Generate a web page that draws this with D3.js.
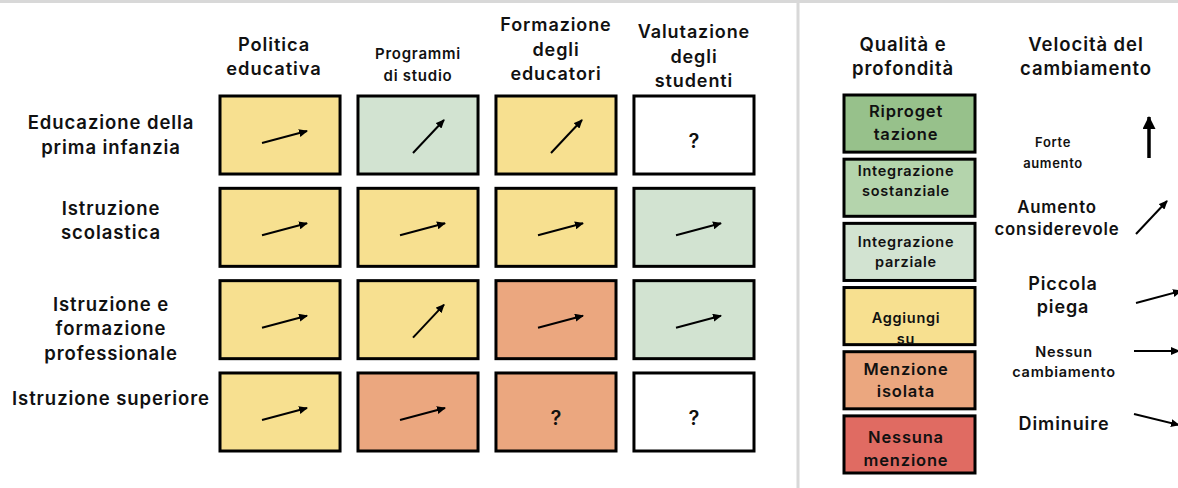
<!DOCTYPE html>
<html>
<head>
<meta charset="utf-8">
<script src="https://cdn.jsdelivr.net/npm/d3@7"></script>
<style>
  html, body { margin: 0; padding: 0; background: #fff; }
  svg { display: block; }
  text { font-family: Inter, "Open Sans", "DejaVu Sans", sans-serif; font-weight: 600; fill: #111; letter-spacing: 0.05em; }
</style>
</head>
<body>
<svg id="chart" width="1178" height="488"></svg>
<script>
// ---------------- DATA ----------------
const columns = ["Politica\neducativa", "Programmi\ndi studio", "Formazione\ndegli\neducatori", "Valutazione\ndegli\nstudenti"];
const rowLabels = ["Educazione della\nprima infanzia", "Istruzione\nscolastica", "Istruzione e\nformazione\nprofessionale", "Istruzione superiore"];
const qualityLevels = ["Riproget\ntazione", "Integrazione\nsostanziale", "Integrazione\nparziale", "Aggiungi\nsu", "Menzione\nisolata", "Nessuna\nmenzione"];
const speedLevels = ["Forte\naumento", "Aumento\nconsiderevole", "Piccola\npiega", "Nessun\ncambiamento", "Diminuire"];
// quality per cell: index into qualityLevels, null = unknown (white)
const qualityRow1 = [3, 2, 3, null];
const qualityRow2 = [3, 3, 3, 2];
const qualityRow3 = [3, 3, 4, 2];
const qualityRow4 = [3, 4, 4, null];
// speed per cell: index into speedLevels, null = "?"
const speedRow1 = [2, 1, 1, null];
const speedRow2 = [2, 2, 2, 2];
const speedRow3 = [2, 1, 2, 2];
const speedRow4 = [2, 2, null, null];
const unknownMark = "?";

// ---------------- STYLES / LAYOUT ----------------
const qualityColors = ["#97c18b", "#b4d4ac", "#d2e3d1", "#f7e090", "#eba77f", "#e06b62"];
const unknownColor = "#ffffff";
// arrow vectors per speed level [dx, dy]
const speedVectors = [[0, -41], [31, -33], [45, -12], [45, 0], [45, 11]];

const svg = d3.select("#chart");

svg.append("line").attr("x1", 0).attr("x2", 1178).attr("y1", 1.5).attr("y2", 1.5)
  .attr("stroke", "#d8d8d8").attr("stroke-width", 3);
svg.append("line").attr("x1", 798).attr("x2", 798).attr("y1", 0).attr("y2", 488)
  .attr("stroke", "#d8d8d8").attr("stroke-width", 3);

const defs = svg.append("defs");
function marker(id, w, h) {
  defs.append("marker").attr("id", id)
    .attr("viewBox", `0 0 ${w} ${h}`).attr("refX", w - 1).attr("refY", h / 2)
    .attr("markerWidth", w).attr("markerHeight", h).attr("markerUnits", "userSpaceOnUse")
    .attr("orient", "auto")
    .append("path").attr("d", `M0,0 L${w},${h / 2} L0,${h} Z`).attr("fill", "#000");
}
marker("head", 9, 8);
marker("headBig", 13, 13);

function multiline(sel, str, x, baseline0, lh, size, anchor = "middle") {
  const t = sel.append("text").attr("x", x).attr("y", baseline0)
    .attr("text-anchor", anchor).attr("font-size", size);
  str.split("\n").forEach((line, i) => {
    t.append("tspan").attr("x", x).attr("y", baseline0 + i * lh).text(line);
  });
  return t;
}

const x = d3.scaleBand().domain(d3.range(columns.length)).range([220, 754]).paddingInner(0.13);
const y = d3.scaleBand().domain(d3.range(rowLabels.length)).range([96, 451]).paddingInner(0.155);
const qColor = d3.scaleOrdinal().domain(d3.range(qualityLevels.length)).range(qualityColors);

const qualityGrid = [qualityRow1, qualityRow2, qualityRow3, qualityRow4];
const speedGrid = [speedRow1, speedRow2, speedRow3, speedRow4];
const cells = [];
qualityGrid.forEach((row, r) => row.forEach((q, c) => cells.push({ r, c, q, s: speedGrid[r][c] })));

// column headers
const headerSizes = [18.3, 15, 18, 18];
const headerLastBase = [75, 81, 80, 87];
const headerLH = [24.5, 22, 24.5, 24.5];
columns.forEach((col, i) => {
  const n = col.split("\n").length;
  const cx = x(i) + x.bandwidth() / 2 + (i === 0 ? -6 : 0);
  multiline(svg, col, cx, headerLastBase[i] - (n - 1) * headerLH[i], headerLH[i], headerSizes[i]);
});

// row labels
const rowShift = [0, -7, 9, -13];
rowLabels.forEach((lab, i) => {
  const n = lab.split("\n").length;
  const cy = y(i) + y.bandwidth() / 2 + rowShift[i];
  multiline(svg, lab, 111, cy - (n - 1) * 12.25 + 6.5, 24.5, 18.5);
});

const g = svg.append("g");
const cellG = g.selectAll("g.cell").data(cells).join("g").attr("class", "cell");
cellG.append("rect")
  .attr("x", d => x(d.c)).attr("y", d => y(d.r))
  .attr("width", x.bandwidth()).attr("height", y.bandwidth())
  .attr("fill", d => d.q === null ? unknownColor : qColor(d.q))
  .attr("stroke", "#000").attr("stroke-width", 3);

cellG.filter(d => d.s !== null).append("line")
  .each(function (d) {
    const cx = x(d.c) + x.bandwidth() / 2, cy = y(d.r) + y.bandwidth() / 2;
    const v = speedVectors[d.s];
    const sx = d.s === 1 ? cx - 5 : cx - 18, sy = d.s === 1 ? cy + 18 : cy + 8;
    d3.select(this).attr("x1", sx).attr("y1", sy).attr("x2", sx + v[0]).attr("y2", sy + v[1]);
  })
  .attr("stroke", "#000").attr("stroke-width", 2).attr("marker-end", "url(#head)");

cellG.filter(d => d.s === null).append("text")
  .attr("x", d => x(d.c) + x.bandwidth() / 2)
  .attr("y", d => y(d.r) + y.bandwidth() / 2 + 13)
  .attr("text-anchor", "middle").attr("font-size", 20).attr("font-weight", 700)
  .style("letter-spacing", "0")
  .text(unknownMark);

// legend: quality
multiline(svg, "Qualità e\nprofondità", 903, 51, 23.5, 18.5);
const ly = d3.scaleBand().domain(d3.range(qualityLevels.length)).range([95, 473]).paddingInner(0.11);
const legendText = [
  { size: 16.5, base: 117, lh: 23 },
  { size: 14.5, base: 176, lh: 20 },
  { size: 14.5, base: 247, lh: 20 },
  { size: 14.5, base: 323, lh: 21 },
  { size: 16.5, base: 375, lh: 22 },
  { size: 16.5, base: 443, lh: 23 }
];
qualityLevels.forEach((lab, i) => {
  svg.append("rect").attr("x", 844).attr("y", ly(i)).attr("width", 131).attr("height", ly.bandwidth())
    .attr("fill", qColor(i)).attr("stroke", "#000").attr("stroke-width", 3);
});
qualityLevels.forEach((lab, i) => {
  const s = legendText[i];
  multiline(svg, lab, 906, s.base, s.lh, s.size);
});

// legend: speed
multiline(svg, "Velocità del\ncambiamento", 1086, 51, 23.5, 18.5);
const speedLegend = [
  { tx: 1053, base: 147, lh: 21, size: 13, ax: 1149, ay: 158 },
  { tx: 1057, base: 213, lh: 22, size: 16.8, ax: 1136, ay: 234 },
  { tx: 1063, base: 290, lh: 23, size: 18, ax: 1136, ay: 303 },
  { tx: 1064, base: 357, lh: 20, size: 14.5, ax: 1134, ay: 351 },
  { tx: 1064, base: 430, lh: 22, size: 18, ax: 1134, ay: 414 }
];
speedLevels.forEach((lab, i) => {
  const s = speedLegend[i];
  multiline(svg, lab, s.tx, s.base, s.lh, s.size);
  const v = speedVectors[i];
  svg.append("line").attr("x1", s.ax).attr("y1", s.ay).attr("x2", s.ax + v[0]).attr("y2", s.ay + v[1])
    .attr("stroke", "#000").attr("stroke-width", i === 0 ? 3.5 : 2)
    .attr("marker-end", i === 0 ? "url(#headBig)" : "url(#head)");
});
</script>
</body>
</html>
